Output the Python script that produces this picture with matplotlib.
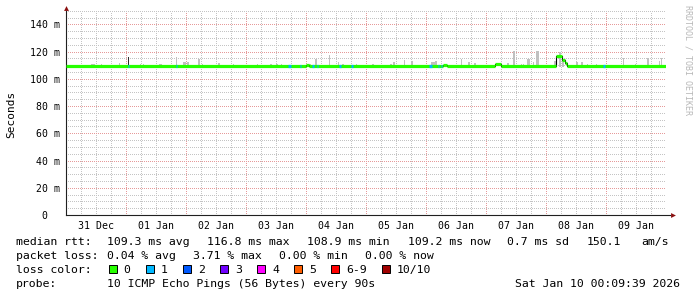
import matplotlib
matplotlib.use("Agg")
import matplotlib.pyplot as plt
from matplotlib.patches import Rectangle

# %% data (time axis in hours since 31 Dec 00:00)

T_START, T_END = 0.16, 240.16
DAY_LABELS = ["31 Dec", "01 Jan", "02 Jan", "03 Jan", "04 Jan",
              "05 Jan", "06 Jan", "07 Jan", "08 Jan", "09 Jan"]
Y_TICKS = [0, 20, 40, 60, 80, 100, 120, 140]
Y_LABELS = ["0  ", "20 m", "40 m", "60 m", "80 m", "100 m", "120 m", "140 m"]

# median rtt (ms) as steps: value holds from break i to break i+1
MEDIAN_BREAKS = [0.16, 96.2, 97.4, 151.0, 152.6, 171.8, 174.2,
                 196.2, 198.4, 199.7, 200.4]
MEDIAN_VALUES = [109.3, 110.1, 109.3, 109.9, 109.3, 110.8, 109.3,
                 116.8, 113.6, 111.8, 109.3]

# smoke (spread of the pings) above the median
SMOKE_HOURS = [11.1, 14.2, 21.5, 29.8, 31.0, 37.8, 44.2, 47.4, 48.8, 53.5,
               54.6, 61.5, 67.0, 76.6, 82.0, 84.4, 86.4, 97.8, 100.0, 105.4,
               109.1, 111.0, 116.4, 123.1, 130.2, 131.4, 135.5, 138.4, 147.1, 148.2,
               158.2, 161.4, 163.8, 176.8, 179.4, 182.4, 183.0, 185.1, 187.1, 188.8,
               195.8, 197.8, 199.0, 204.4, 206.4, 208.6, 212.4, 223.1, 227.8, 233.1,
               237.5, 238.4]
SMOKE_WIDTHS = [1.6, 0.4, 0.4, 0.4, 0.4, 1.2, 0.4, 1.2, 0.8, 0.8,
                0.4, 0.8, 0.4, 0.4, 0.8, 0.8, 0.4, 0.8, 0.8, 0.4,
                0.4, 0.8, 0.4, 0.8, 0.8, 0.8, 0.4, 0.8, 1.6, 0.8,
                0.4, 0.8, 0.8, 0.8, 0.8, 0.4, 0.4, 1.2, 0.4, 1.2,
                0.8, 0.8, 0.8, 0.8, 0.8, 0.4, 0.4, 0.4, 0.4, 0.8,
                0.4, 0.4]
SMOKE_TOPS = [111.0, 110.8, 111.4, 110.8, 110.8, 111.0, 115.8, 112.5, 112.0, 114.8,
              111.0, 111.7, 111.0, 111.0, 111.0, 111.0, 111.0, 111.0, 114.4, 117.3,
              112.0, 111.0, 111.0, 111.0, 111.0, 112.0, 113.6, 112.9, 112.6, 113.0,
              114.9, 112.0, 111.5, 111.5, 120.2, 111.0, 111.0, 114.2, 112.0, 120.2,
              113.0, 119.5, 114.0, 112.5, 112.0, 111.0, 111.0, 115.0, 111.0, 115.6,
              112.9, 115.0]
DARK_HOURS = [25.1]
DARK_TOPS = [116.0]

# periods with 1 of 10 pings lost
LOSS1_HOURS = [25.1, 44.2, 89.4, 93.8, 98.8, 100.7, 109.8, 114.4, 145.8, 149.1, 150.4, 215.4]
LOSS1_WIDTHS = [0.4, 0.4, 1.2, 0.4, 0.8, 0.4, 0.8, 0.8, 1.2, 0.4, 0.4, 0.8]

LOSS_LABELS = ["0", "1", "2", "3", "4", "5", "6-9", "10/10"]
LOSS_COLORS = ["#26ff00", "#00b8ff", "#0059ff", "#7000ff", "#ff00ff",
               "#ff5e00", "#ff0000", "#a00000"]
LOSS_BOX_X = [108.5, 145.8, 183.0, 220.0, 257.0, 294.0, 331.0, 381.5]

# statistics rows: (text, x position in px)
RTT_ROW = [("median rtt:", 16), ("109.3 ms avg", 107.3), ("116.8 ms max", 207.3),
           ("108.9 ms min", 307.3), ("109.2 ms now", 408.3), ("0.7 ms sd", 506.7),
           ("150.1", 586.7), ("am/s", 641.7)]
LOSS_ROW = [("packet loss:", 16), ("0.04 % avg", 107.3), ("3.71 % max", 193.3),
            ("0.00 % min", 279.3), ("0.00 % now", 365.3)]
PROBE_ROW = [("probe:", 16), ("10 ICMP Echo Pings (56 Bytes) every 90s", 107.3)]
STAMP_TEXT = "Sat Jan 10 00:09:39 2026"

# %% figure

W, H = 697, 297
MONO = "DejaVu Sans Mono"
plt.rcParams["font.family"] = MONO


def fx(x):
    return x / W


def fy(y):
    return 1 - y / H


fig = plt.figure(figsize=(W / 100, H / 100), dpi=100)
fig.patch.set_facecolor("white")
ax = fig.add_axes([fx(66), fy(215), 600 / W, 204.3 / H])
ax.set_xlim(T_START, T_END)
ax.set_ylim(0, 150)

major_c, minor_c = "#e69a9a", "#c4c4c4"
dot = (0, (1, 2))
grid_kw = dict(lw=0.72, ls=dot, zorder=0, snap=True, antialiased=False)
for h in range(6, 241, 6):
    if h % 24:
        ax.axvline(h, color=minor_c, **grid_kw)
for h in range(24, 241, 24):
    ax.axvline(h, color=major_c, **grid_kw)
for v in range(5, 151, 5):
    if v % 20:
        ax.axhline(v, color=minor_c, **grid_kw)
for v in range(20, 141, 20):
    ax.axhline(v, color=major_c, **grid_kw)

base = 108.6
ax.bar(SMOKE_HOURS, [t - base for t in SMOKE_TOPS], bottom=base,
       width=SMOKE_WIDTHS, color="#c0c0c0", linewidth=0, zorder=1)
ax.bar(DARK_HOURS, [t - base for t in DARK_TOPS], bottom=base,
       width=0.35, color="#2a2a2a", linewidth=0, zorder=1)

edges = MEDIAN_BREAKS + [T_END]
ax.step(edges, MEDIAN_VALUES + [MEDIAN_VALUES[-1]], where="post",
        color="black", lw=0.8, zorder=2)
for i, v in enumerate(MEDIAN_VALUES):
    ax.hlines(v, edges[i], edges[i + 1], color=LOSS_COLORS[0], lw=2.3,
              capstyle="butt", zorder=3)
for h, w in zip(LOSS1_HOURS, LOSS1_WIDTHS):
    ax.hlines(109.3, h - w / 2, h + w / 2, color=LOSS_COLORS[1], lw=2.3,
              capstyle="butt", zorder=4)

for s in ["top", "right"]:
    ax.spines[s].set_visible(False)
for s in ["left", "bottom"]:
    ax.spines[s].set_color("#202020")
    ax.spines[s].set_linewidth(0.8)
ax.spines["bottom"].set_bounds(T_START, T_END + 1.6)

ax.set_xticks([12 + 24 * i for i in range(len(DAY_LABELS))], DAY_LABELS)
ax.set_yticks(Y_TICKS, Y_LABELS)
ax.tick_params(axis="x", length=0, pad=4.5, labelsize=7.1)
ax.tick_params(axis="y", length=0, pad=4.0, labelsize=7.1)

# axis arrows
ax.plot([0], [1.015], marker="^", ms=3.5, color="#8b1010", mew=0,
        transform=ax.transAxes, clip_on=False)
ax.plot([1 + 7 / 600], [0], marker=">", ms=3.5, color="#8b1010", mew=0,
        transform=ax.transAxes, clip_on=False)

fig.text(fx(11), fy(114), "Seconds", rotation=90, ha="center", va="center",
         fontsize=8)
fig.text(fx(688), fy(60), "RRDTOOL / TOBI OETIKER", rotation=270,
         ha="center", va="center", fontsize=6, color="#b8b8b8")

# %% legend / statistics block

fs = 8.25
rows_y = [245.2, 258.9, 273.0, 287.0]  # text baselines (px)
for txt, x in RTT_ROW:
    fig.text(fx(x), fy(rows_y[0]), txt, ha="left", va="baseline", fontsize=fs)
for txt, x in LOSS_ROW:
    fig.text(fx(x), fy(rows_y[1]), txt, ha="left", va="baseline", fontsize=fs)
fig.text(fx(16), fy(rows_y[2]), "loss color:", ha="left", va="baseline", fontsize=fs)
for x0, lab, c in zip(LOSS_BOX_X, LOSS_LABELS, LOSS_COLORS):
    fig.patches.append(Rectangle((fx(x0), fy(273.3)), 8 / W, 8 / H,
                                 transform=fig.transFigure, facecolor=c,
                                 edgecolor="black", lw=0.7))
    fig.text(fx(x0 + 15), fy(rows_y[2]), lab, ha="left", va="baseline", fontsize=fs)
for txt, x in PROBE_ROW:
    fig.text(fx(x), fy(rows_y[3]), txt, ha="left", va="baseline", fontsize=fs)
fig.text(fx(680), fy(rows_y[3]), STAMP_TEXT, ha="right", va="baseline", fontsize=fs)

fig.savefig("out.png", dpi=100, facecolor="white")
